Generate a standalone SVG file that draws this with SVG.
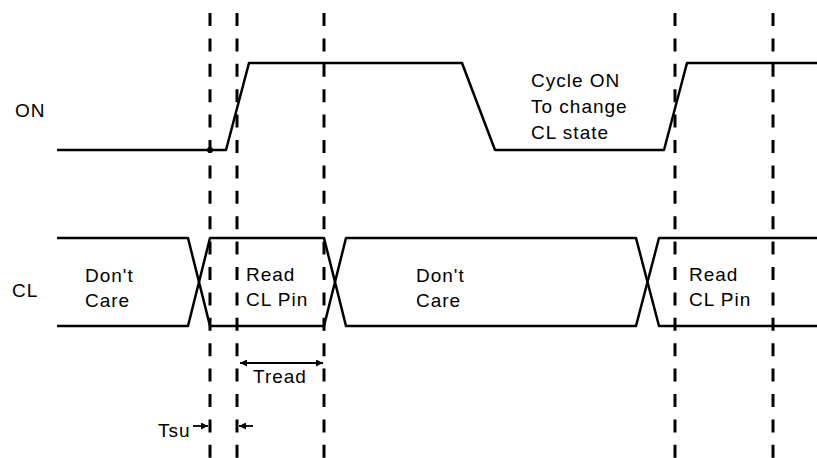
<svg xmlns="http://www.w3.org/2000/svg" width="817" height="458" viewBox="0 0 817 458">
<style>
.bg{fill:#ffffff}
.grid{stroke:#000;stroke-width:3;stroke-dasharray:13 12.4;fill:none}
.sig{stroke:#000;stroke-width:2.5;fill:none;stroke-linejoin:round}
.dim{stroke:#000;stroke-width:1.8;fill:none}
text{font-family:"Liberation Sans",Arial,sans-serif;font-size:19px;fill:#000;letter-spacing:1px}
</style>
<defs>
<marker id="ah" viewBox="0 0 10 10" refX="10" refY="5" markerWidth="8" markerHeight="7" markerUnits="userSpaceOnUse" orient="auto-start-reverse">
<path d="M0,0 L10,5 L0,10 z" fill="#000"/>
</marker>
</defs>
<rect class="bg" x="0" y="0" width="817" height="458"/>
<g id="gridlines">
<line class="grid" x1="210" y1="13" x2="210" y2="458"/>
<line class="grid" x1="237" y1="13" x2="237" y2="458"/>
<line class="grid" x1="324" y1="13" x2="324" y2="458"/>
<line class="grid" x1="675" y1="13" x2="675" y2="458"/>
<line class="grid" x1="773" y1="13" x2="773" y2="458"/>
</g>
<g id="on-signal">
<path class="sig" d="M57,150 L226,150 L249,63 L462,63 L495,150 L664,150 L687,63 L817,63"/>
<circle cx="210" cy="150" r="3" fill="#000"/>
<text x="15" y="117">ON</text>
<text x="531" y="87">Cycle ON</text>
<text x="531" y="113">To change</text>
<text x="531" y="139">CL state</text>
</g>
<g id="cl-signal">
<path class="sig" d="M57,238 L188,238 L210,326 L324,326 L346,238 L636,238 L659,326 L817,326"/>
<path class="sig" d="M57,326 L188,326 L210,238 L324,238 L346,326 L636,326 L659,238 L817,238"/>
<text x="12" y="297">CL</text>
<text x="85" y="282">Don't</text>
<text x="85" y="307">Care</text>
<text x="246" y="281">Read</text>
<text x="246" y="306">CL Pin</text>
<text x="416" y="282">Don't</text>
<text x="416" y="307">Care</text>
<text x="689" y="281">Read</text>
<text x="689" y="306">CL Pin</text>
</g>
<g id="connectors">
<line class="dim" x1="240" y1="363" x2="323" y2="363" marker-start="url(#ah)" marker-end="url(#ah)"/>
<line class="dim" x1="193" y1="426" x2="208" y2="426" marker-end="url(#ah)"/>
<line class="dim" x1="253" y1="426" x2="239" y2="426" marker-end="url(#ah)"/>
</g>
<g id="dim-labels">
<text x="253" y="383">Tread</text>
<text x="158" y="437">Tsu</text>
</g>
</svg>
